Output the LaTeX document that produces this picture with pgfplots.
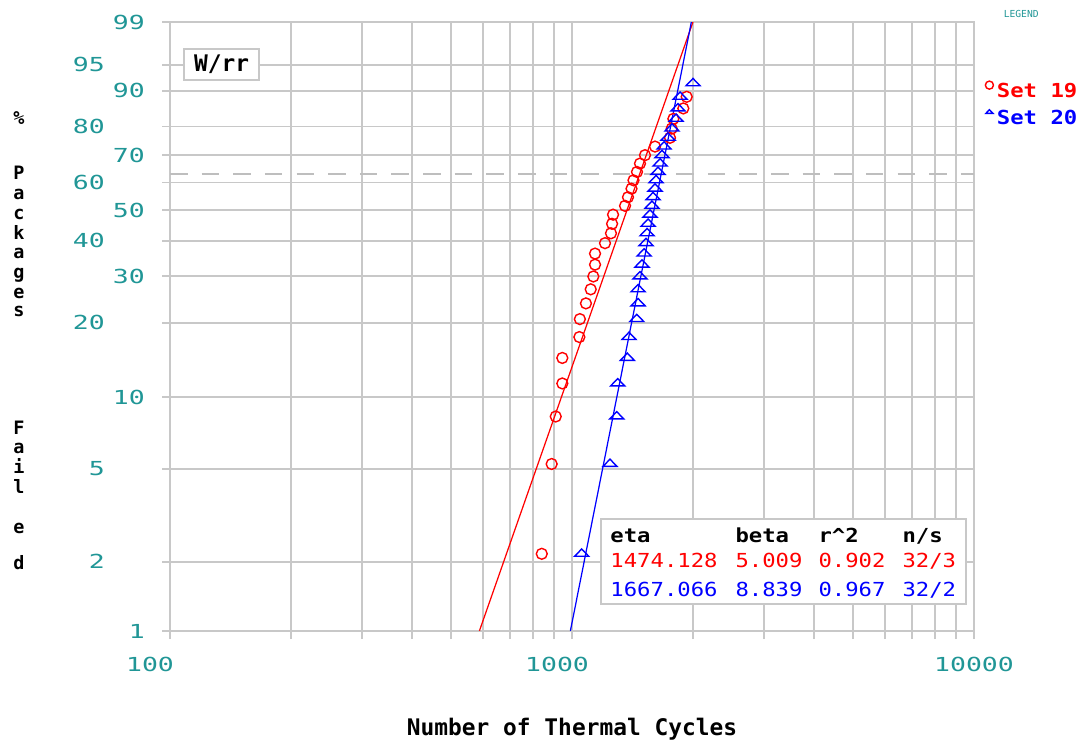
\documentclass[border=0pt]{standalone}
\usepackage{pgfplots}
\pgfplotsset{compat=1.18}
\usepackage{fontspec}
\setmainfont{DejaVu Sans Mono}
\newfontfamily\tickfont[FakeStretch=1.37]{DejaVu Sans Mono}
\newfontfamily\tabfont[FakeStretch=1.15]{DejaVu Sans Mono}
\definecolor{tealc}{RGB}{32,150,150}
\definecolor{gridc}{RGB}{200,200,200}
\definecolor{dashc}{RGB}{190,190,190}

\pgfplotstableread{
x F
841 2.16
890 5.25
911 8.33
946 11.42
946 14.51
1043 17.59
1046 20.68
1083 23.77
1113 26.85
1130 29.94
1141 33.02
1141 36.11
1208 39.20
1250 42.28
1258 45.37
1265 48.46
1355 51.54
1378 54.63
1406 57.72
1422 60.80
1451 63.89
1476 66.98
1519 70.06
1609 73.15
1753 76.23
1770 79.32
1787 82.41
1892 85.49
1929 88.58
}\setnineteen

\pgfplotstableread{
x F
1057 2.16
1243 5.25
1292 8.33
1299 11.42
1373 14.51
1386 17.59
1449 20.68
1460 23.77
1460 26.85
1476 29.94
1493 33.02
1511 36.11
1528 39.20
1537 42.28
1546 45.37
1563 48.46
1581 51.54
1591 54.63
1609 57.72
1618 60.80
1637 63.89
1656 66.98
1675 70.06
1694 73.15
1733 76.23
1773 79.32
1815 82.41
1835 85.49
1857 88.58
2000 91.67
}\settwenty

\begin{document}
\begin{tikzpicture}
\path[use as bounding box] (0,0) rectangle (21.76cm,14.86cm);
\begin{axis}[
  at={(3.4cm,2.24cm)}, anchor=south west, scale only axis,
  width=16.08cm, height=12.18cm,
  xmode=log, xmin=100, xmax=10000,
  ymin=-4.60015, ymax=1.52718,
  y filter/.expression={ln(-ln(1-y/100))},
  axis line style={gridc, line width=1.1pt},
  grid=both,
  major grid style={gridc, line width=1.1pt},
  minor grid style={gridc, line width=1.1pt},
  tick align=outside,
  major tick length=0.16cm, minor tick length=0.16cm,
  tick style={gridc, line width=1.1pt},
  xtick pos=bottom, ytick pos=left,
  xtick={100,1000,10000},
  minor xtick={200,300,400,500,600,700,800,900,2000,3000,4000,5000,6000,7000,8000,9000},
  xticklabels={\hspace*{-0.8cm}100,\hspace*{-0.6cm}1000,10000},
  xticklabel style={tealc, font=\tickfont\fontsize{11}{12}\selectfont, anchor=north, inner sep=0pt, yshift=-0.35cm},
  ytick={-4.60015,-2.2504,-1.0309,-0.3665,0.1856,0.8340,1.52718},
  yticklabels={1,10,30,50,70,90,99},
  yticklabel style={tealc, font=\tickfont\fontsize{11}{12}\selectfont, anchor=east, inner sep=0pt, xshift=-0.34cm},
  extra y ticks={-3.9019,-2.9702,-1.4999,-0.6717,-0.0874,0.4759,1.0972},
  extra y tick labels={2,5,20,40,60,80,95},
  extra y tick style={grid=major, yticklabel style={xshift=-0.8cm}},
  xlabel={Number of Thermal Cycles},
  xlabel style={at={(axis description cs:0.5,0)}, anchor=center, yshift=-1.96cm, font=\bfseries\fontsize{13}{14}\selectfont},
  legend style={at={(axis description cs:1,0.915)}, anchor=north west, xshift=0.22cm, yshift=-0.12cm, draw=none, fill=none,
    font=\tabfont\bfseries\fontsize{11}{12}\selectfont, row sep=0.06cm, inner sep=0pt},
  legend cell align=left,
  legend image code/.code={\draw[xshift=0.1cm, yshift=0.14cm, mark size=2.3pt] plot coordinates {(0cm,0cm)};},
]
\addplot[dashc, dashed, dash pattern=on 10pt off 8pt, line width=1.1pt, forget plot] coordinates {(100,63.2121) (10000,63.2121)};
\addplot[red, line width=0.7pt, forget plot] coordinates {(588.5,1) (1999.6,99)};
\addplot[blue, line width=0.7pt, forget plot] coordinates {(990.8,1) (1981.4,99)};
\addplot[red, only marks, mark=o, mark size=3.1pt, mark options={line width=0.8pt}] table[x=x, y=F] {\setnineteen};
\addlegendentry{\textcolor{red}{Set 19}}
\addplot[blue, only marks, mark=triangle, mark size=4.6pt, mark options={line width=0.8pt, yscale=0.6}] table[x=x, y=F] {\settwenty};
\addlegendentry{\textcolor{blue}{Set 20}}
\end{axis}
\begin{scope}[x=0.02cm, y=-0.02cm, yshift=14.86cm]
  \node[draw=gridc, line width=1.1pt, fill=white, minimum width=1.5cm, minimum height=0.62cm, inner sep=0pt,
        font=\bfseries\fontsize{13}{13}\selectfont] at (221.5,64.5) {W/rr};
  \draw[gridc, line width=1.1pt, fill=white] (601,519) rectangle (966,604);
  \begin{scope}[every node/.style={anchor=base west, inner sep=0pt, font=\tabfont\fontsize{11}{12}\selectfont}]
    \node[font=\tabfont\bfseries\fontsize{11}{12}\selectfont] at (610,542) {eta};
    \node[font=\tabfont\bfseries\fontsize{11}{12}\selectfont] at (735,542) {beta};
    \node[font=\tabfont\bfseries\fontsize{11}{12}\selectfont] at (818,542) {r\^{}2};
    \node[font=\tabfont\bfseries\fontsize{11}{12}\selectfont] at (902,542) {n/s};
    \node[red] at (610,567) {1474.128};
    \node[red] at (735,567) {5.009};
    \node[red] at (818,567) {0.902};
    \node[red] at (902,567) {32/3};
    \node[blue] at (610,596) {1667.066};
    \node[blue] at (735,596) {8.839};
    \node[blue] at (818,596) {0.967};
    \node[blue] at (902,596) {32/2};
  \end{scope}
  \node[tealc, font=\fontsize{5.5}{6}\selectfont, inner sep=0pt] at (1021,14) {LEGEND};
  \begin{scope}[every node/.style={inner sep=0pt, anchor=base, font=\bfseries\fontsize{10.5}{11}\selectfont}]
    \node at (19,124) {\%};
    \node at (19,179) {P};
    \node at (19,199) {a};
    \node at (19,219) {c};
    \node at (19,239) {k};
    \node at (19,258) {a};
    \node at (19,278) {g};
    \node at (19,298) {e};
    \node at (19,316) {s};
    \node at (19,434) {F};
    \node at (19,453) {a};
    \node at (19,473) {i};
    \node at (19,493) {l};
    \node at (19,533) {e};
    \node at (19,569) {d};
  \end{scope}
\end{scope}
\end{tikzpicture}
\end{document}
